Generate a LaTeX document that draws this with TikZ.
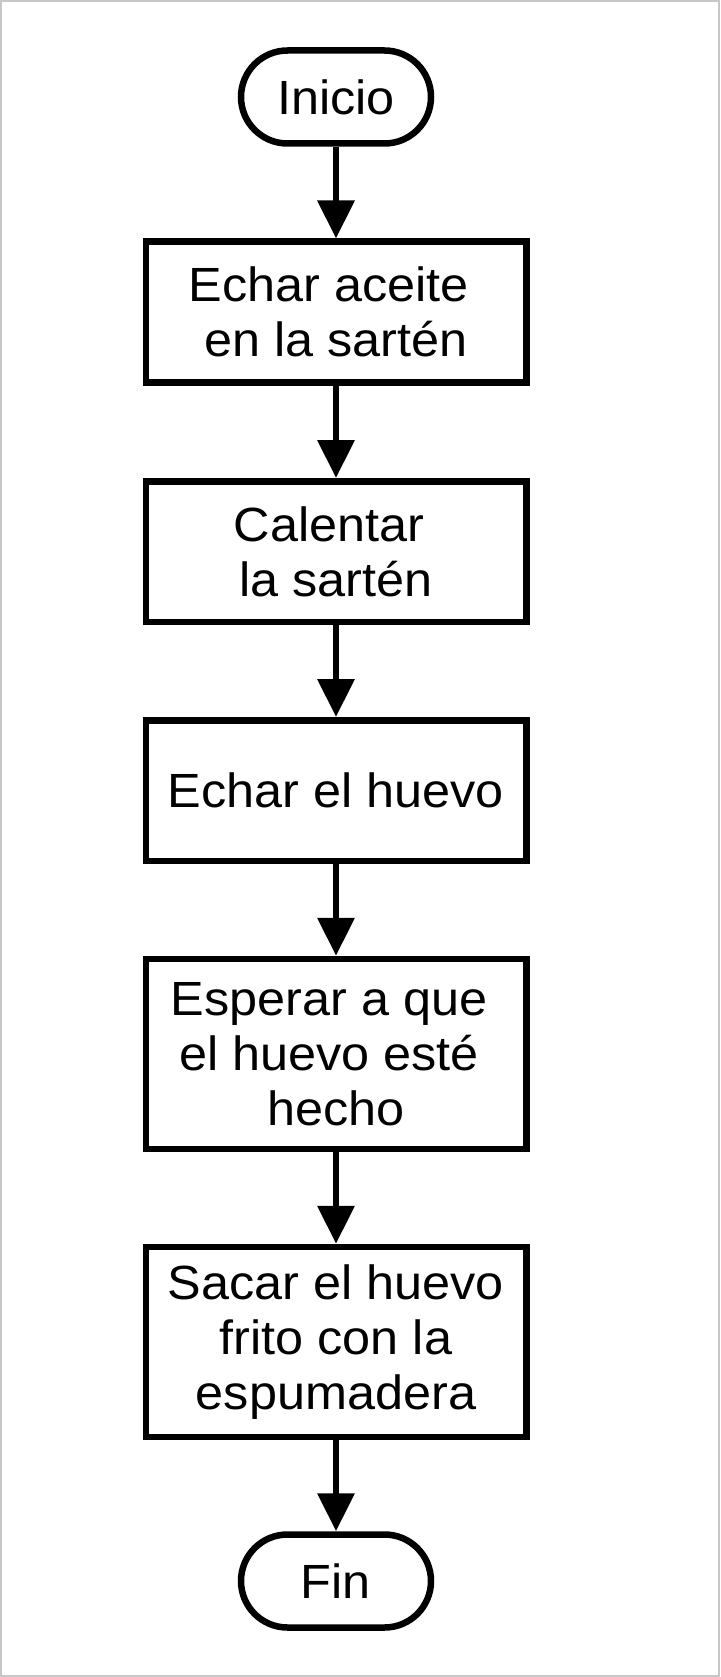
\documentclass[tikz,border=0pt]{standalone}
\usepackage{fontspec}
\setmainfont{Liberation Sans}[FakeStretch=1.05]
\usetikzlibrary{arrows.meta}
\newcommand{\trsp}{\kern14pt}
\begin{document}
\begin{tikzpicture}[x=1pt,y=-1pt,
  every node/.style={font=\fontsize{48}{55}\selectfont, align=center, line width=6.5pt, inner sep=0pt},
  procbox/.style={draw, minimum width=380.5pt, minimum height=140.5pt},
  tallbox/.style={draw, minimum width=380.5pt, minimum height=190pt},
  term/.style={draw, rounded corners=46.5pt, minimum width=190pt, minimum height=93pt},
  flow/.style={line width=6.5pt, -{Triangle[length=38pt,width=36pt]}}]
\useasboundingbox (0,0) rectangle (720,1677);
\draw[line width=2pt, color=black!22] (1,1) rectangle (719,1676);
\node[term] (ini) at (336,97) {Inicio};
\node[procbox] (b1) at (336,312) {Echar aceite\trsp\\en la sartén};
\node[procbox] (b2) at (336,551.5) {Calentar\trsp\\la sartén};
\node[procbox] (b3) at (336,790.5) {Echar el huevo};
\node[tallbox] (b4) at (336,1054) {Esperar a que\trsp\\el huevo esté\trsp\\hecho};
\node[tallbox] (b5) at (336,1342) {Sacar el huevo\\frito con la\\espumadera};
\node[term] (fin) at (336,1581) {Fin};
\draw[flow] (ini) -- (b1);
\draw[flow] (b1) -- (b2);
\draw[flow] (b2) -- (b3);
\draw[flow] (b3) -- (b4);
\draw[flow] (b4) -- (b5);
\draw[flow] (b5) -- (fin);
\end{tikzpicture}
\end{document}
